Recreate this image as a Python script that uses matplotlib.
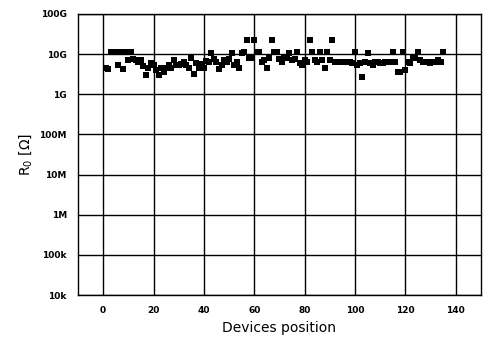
import numpy as np
import matplotlib
matplotlib.use("Agg")
import matplotlib.pyplot as plt

# device positions 1..135 and resistance values (in GOhm)
positions = list(range(1, 136))
r0_gohm = [
    4.4, 4.2, 11, 11, 11, 5.3, 11, 4.2, 11, 7.1,
    11, 7.5, 7.1, 6.5, 7.1, 5.0, 3.0, 4.5, 6.0, 5.3,
    4.0, 3.0, 4.5, 3.6, 4.5, 5.3, 4.5, 7.1, 5.5, 5.3,
    5.6, 6.3, 5.3, 4.5, 7.9, 3.2, 6.0, 4.5, 5.6, 4.5,
    6.7, 6.3, 10.6, 7.5, 6.5, 4.2, 5.3, 7.1, 6.5, 7.5,
    10.6, 5.3, 6.3, 4.5, 10.6, 11, 22, 7.9, 7.9, 22,
    11, 11, 6.3, 7.1, 4.5, 7.9, 22, 11, 11, 7.5,
    6.3, 7.9, 7.9, 10.6, 7.1, 7.5, 11, 6.0, 5.3, 7.1,
    6.3, 22, 11, 7.1, 6.3, 11, 7.1, 4.5, 11, 7.1,
    22, 6.3, 6.3, 6.3, 6.3, 6.3, 6.3, 6.3, 6.0, 11,
    5.3, 6.0, 2.65, 6.3, 10.6, 6.0, 5.3, 6.3, 6.3, 6.0,
    6.0, 6.3, 6.3, 6.3, 11, 6.3, 3.5, 3.5, 11, 4.0,
    6.3, 6.0, 7.9, 7.9, 11, 7.1, 6.3, 6.3, 6.3, 6.0,
    6.3, 6.3, 7.1, 6.3, 11,
]
x_ticks = [0, 20, 40, 60, 80, 100, 120, 140]
y_ticks = [1e4, 1e5, 1e6, 1e7, 1e8, 1e9, 1e10, 1e11]
y_tick_labels = ['10k', '100k', '1M', '10M', '100M', '1G', '10G', '100G']


def main():
    fig = plt.figure(figsize=(4.83, 3.4), dpi=100)
    ax = fig.add_axes([0.1615, 0.132, 0.834, 0.827])

    values = np.array(r0_gohm) * 1e9
    ax.plot(positions, values, 's', color='black', markersize=3.8, markeredgewidth=0)

    ax.set_yscale('log')
    ax.set_xlim(-10, 150)
    ax.set_ylim(1e4, 1e11)
    ax.set_xticks(x_ticks)
    ax.set_yticks(y_ticks)
    ax.set_yticklabels(y_tick_labels)
    ax.minorticks_off()
    ax.grid(True, color='black', linewidth=1.0)
    ax.tick_params(length=0, labelsize=6.5, pad=8)
    for lbl in ax.get_xticklabels() + ax.get_yticklabels():
        lbl.set_fontweight('bold')
    for s in ax.spines.values():
        s.set_linewidth(1.0)

    ax.set_xlabel('Devices position', fontsize=10, labelpad=4)
    ax.set_ylabel(r'R$_0$ [$\Omega$]', fontsize=10, labelpad=4)

    fig.savefig('out.png', dpi=100)


if __name__ == '__main__':
    main()
